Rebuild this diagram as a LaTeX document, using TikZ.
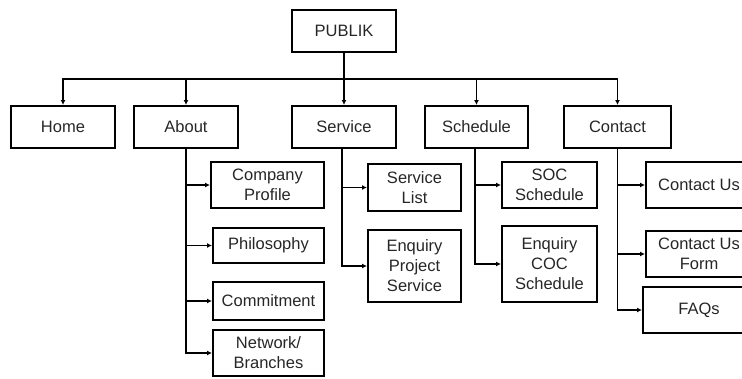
\documentclass[tikz,border=0pt]{standalone}
\usepackage{fontspec}
\setmainfont{Liberation Sans}
\usetikzlibrary{arrows.meta}
\begin{document}
\begin{tikzpicture}[x=1pt,y=-1pt,
  box/.style={draw=black, line width=2pt, inner sep=0pt, align=center,
    font=\fontsize{16.5}{20}\selectfont, text=black!85},
  arr/.style={draw=black, line width=1.9pt, -{Latex[length=5pt,width=5pt]}}]
\useasboundingbox (0,0) rectangle (742,378);
\clip (0,0) rectangle (742,378);
% top
\node[box, minimum width=104pt, minimum height=42pt] (publik) at (344,31) {PUBLIK};
\node[box, minimum width=104pt, minimum height=42pt] (home) at (63,127) {Home};
\node[box, minimum width=104pt, minimum height=42pt] (about) at (186,127) {About};
\node[box, minimum width=104pt, minimum height=42pt] (service) at (344,127) {Service};
\node[box, minimum width=103pt, minimum height=42pt] (schedule) at (476.5,127) {Schedule};
\node[box, minimum width=107pt, minimum height=42pt] (contact) at (617.5,127) {Contact};
\coordinate (bus) at (344,79);
% about children
\node[box, minimum width=113pt, minimum height=46pt] (cp) at (267.5,185) {Company\\Profile};
\node[box, minimum width=111pt, minimum height=35pt] (phil) at (268.5,245.5) {Philosophy};
\node[box, minimum width=111pt, minimum height=38pt] (commit) at (268.5,301) {Commitment};
\node[box, minimum width=111pt, minimum height=46pt] (net) at (268.5,353) {Network/\\Branches};
% service children
\node[box, minimum width=93pt, minimum height=47pt] (slist) at (414.5,187.5) {Service\\List};
\node[box, minimum width=93pt, minimum height=72pt] (eps) at (414.5,266) {Enquiry\\Project\\Service};
% schedule children
\node[box, minimum width=95pt, minimum height=46pt] (soc) at (549.5,185) {SOC\\Schedule};
\node[box, minimum width=95pt, minimum height=76pt] (ecoc) at (549.5,264) {Enquiry\\COC\\Schedule};
% contact children
\node[box, minimum width=106pt, minimum height=46pt] (cus) at (699,185) {Contact Us};
\node[box, minimum width=106pt, minimum height=46pt] (cuf) at (699,254) {Contact Us\\Form};
\node[box, minimum width=112pt, minimum height=46pt] (faq) at (699,310) {FAQs};
% connectors
\draw[line width=1.9pt] (publik.south) -- (bus);
\foreach \n in {home,about,service,schedule,contact}
  \draw[arr] (bus) -| (\n.north);
\foreach \n in {cp,phil,commit,net}
  \draw[arr] (about.south) |- (\n.west);
\foreach \n in {slist,eps}
  \draw[arr] ([xshift=-2pt]service.south) |- (\n.west);
\foreach \n in {soc,ecoc}
  \draw[arr] ([xshift=-1.5pt]schedule.south) |- (\n.west);
\foreach \n in {cus,cuf,faq}
  \draw[arr] (contact.south) |- (\n.west);
\end{tikzpicture}
\end{document}
